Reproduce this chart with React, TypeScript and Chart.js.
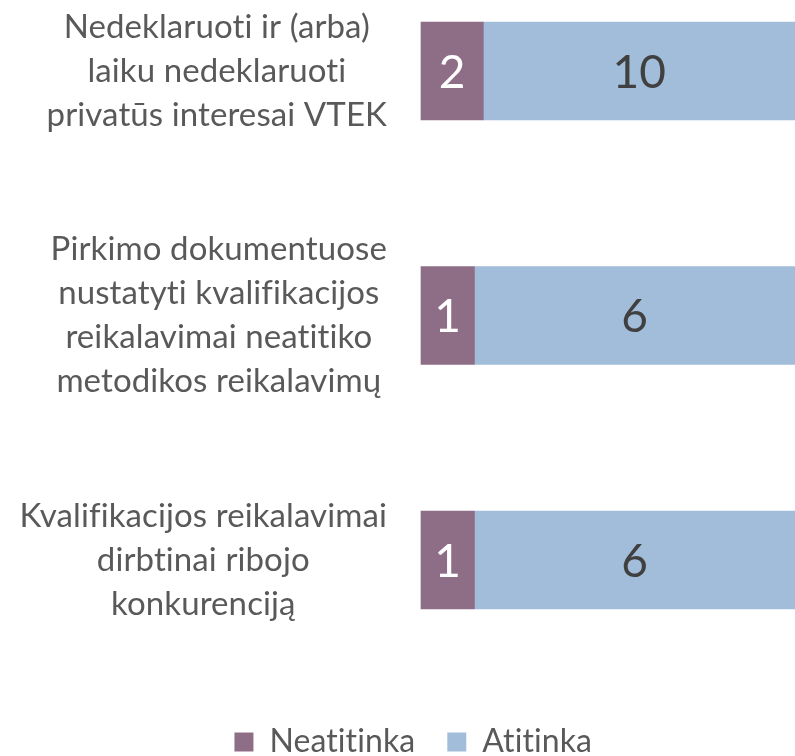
import React, { useEffect, useRef } from "react";
import { Chart, registerables } from "chart.js";

Chart.register(...registerables);

// ---- data ----
const categories: string[][] = [
  ["Nedeklaruoti ir (arba)", "laiku nedeklaruoti", "privatūs interesai VTEK"],
  ["Pirkimo dokumentuose", "nustatyti kvalifikacijos", "reikalavimai neatitiko", "metodikos reikalavimų"],
  ["Kvalifikacijos reikalavimai", "dirbtinai ribojo", "konkurenciją"],
];
const seriesNames = ["Neatitinka", "Atitinka"];
const neatitinka = [2, 1, 1];
const atitinka = [10, 6, 6];

// ---- style ----
const seriesColors = ["#8E6E86", "#A2BDDA"];
const valueLabelColors = ["#FFFFFF", "#404040"];
const FONT = "Lato";
const TEXT_COLOR = "#595959";
const CAT_FONT_SIZE = 33;
const CAT_LINE_H = 44;
const CAT_GAP = 34;
const VALUE_FONT_SIZE = 46;

const counts = [neatitinka, atitinka];
const totals = neatitinka.map((v, i) => v + atitinka[i]);
const pct = (arr: number[]) => arr.map((v, i) => (v / totals[i]) * 100);

const noLigaturePlugin = {
  id: "noLigatures",
  beforeDraw(chart: any) {
    try {
      (chart.ctx as any).letterSpacing = "0.1px";
    } catch (e) {}
  },
};

const categoryLabelPlugin = {
  id: "categoryLabels",
  afterDraw(chart: any) {
    const ctx = chart.ctx;
    const yScale = chart.scales.y;
    const left = chart.chartArea.left;
    ctx.save();
    ctx.font = `${CAT_FONT_SIZE}px ${FONT}`;
    ctx.fillStyle = TEXT_COLOR;
    ctx.textAlign = "center";
    ctx.textBaseline = "middle";
    categories.forEach((lines, i) => {
      const yc = yScale.getPixelForTick(i);
      const maxW = Math.max(...lines.map((l) => ctx.measureText(l).width));
      const xc = left - CAT_GAP - maxW / 2;
      lines.forEach((line, j) => {
        ctx.fillText(line, xc, yc + (j - (lines.length - 1) / 2) * CAT_LINE_H);
      });
    });
    ctx.restore();
  },
};

const valueLabelPlugin = {
  id: "valueLabels",
  afterDatasetsDraw(chart: any) {
    const ctx = chart.ctx;
    ctx.save();
    ctx.font = `${VALUE_FONT_SIZE}px ${FONT}`;
    ctx.textAlign = "center";
    ctx.textBaseline = "middle";
    chart.data.datasets.forEach((ds: any, d: number) => {
      const meta = chart.getDatasetMeta(d);
      ctx.fillStyle = valueLabelColors[d];
      meta.data.forEach((el: any, i: number) => {
        const { x, base, y } = el.getProps(["x", "base", "y"], true);
        ctx.fillText(String(counts[d][i]), (x + base) / 2, y + 2);
      });
    });
    ctx.restore();
  },
};

const legendShiftPlugin = {
  id: "legendShift",
  afterLayout(chart: any) {
    if (chart.legend) {
      chart.legend.left += 16;
      chart.legend.right += 16;
    }
  },
};

export default function App() {
  const ref = useRef<HTMLCanvasElement | null>(null);
  useEffect(() => {
    if (!ref.current) return;
    const chart = new Chart(ref.current, {
      type: "bar",
      data: {
        labels: categories.map((c) => c.join(" ")),
        datasets: [
          {
            label: seriesNames[0],
            data: pct(neatitinka),
            backgroundColor: seriesColors[0],
            barThickness: 98,
            clip: false as any,
          },
          {
            label: seriesNames[1],
            data: pct(atitinka),
            backgroundColor: seriesColors[1],
            barThickness: 98,
            clip: false as any,
          },
        ],
      },
      options: {
        indexAxis: "y",
        responsive: false,
        animation: false,
        devicePixelRatio: 1,
        layout: { padding: { top: 71, left: 0, right: 0, bottom: 0 } },
        scales: {
          x: {
            stacked: true,
            min: 0,
            max: 100,
            ticks: { display: false },
            grid: { display: false },
            border: { display: false },
            afterFit: (s: any) => {
              s.height = 134;
            },
          },
          y: {
            stacked: true,
            offset: false,
            ticks: { display: false },
            grid: { display: false },
            border: { display: false },
            afterFit: (s: any) => {
              s.width = 421;
            },
          },
        },
        plugins: {
          legend: {
            position: "bottom",
            labels: {
              font: { family: FONT, size: 32 },
              color: TEXT_COLOR,
              boxWidth: 19,
              boxHeight: 19,
              padding: 32,
            },
          },
          tooltip: { enabled: false },
        },
      },
      plugins: [noLigaturePlugin, categoryLabelPlugin, valueLabelPlugin, legendShiftPlugin],
    });
    return () => chart.destroy();
  }, []);
  return (
    <div
      style={{
        position: "absolute",
        left: 0,
        top: 0,
        width: 795,
        height: 756,
        overflow: "hidden",
        background: "#fff",
      }}
    >
      <canvas ref={ref} width={795} height={768} style={{ display: "block" }} />
    </div>
  );
}
